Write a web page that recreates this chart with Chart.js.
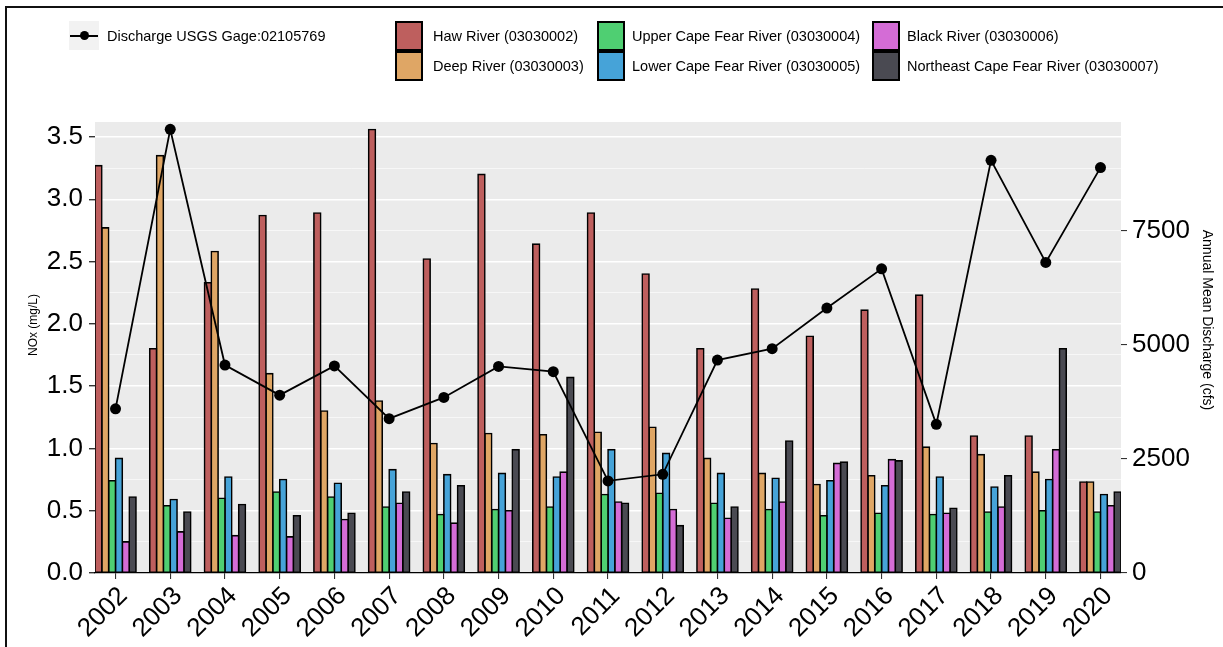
<!DOCTYPE html>
<html>
<head>
<meta charset="utf-8">
<script src="https://cdn.jsdelivr.net/npm/chart.js@4.4.0/dist/chart.umd.min.js"></script>
<style>
  body { margin: 0; background: #fff; font-family: "Liberation Sans", Arial, sans-serif; }
  #wrap { position: relative; width: 1223px; height: 647px; overflow: hidden; }
  #frame { position: absolute; left: 5px; top: 6px; width: 1240px; height: 660px; border-top: 2px solid #111; border-left: 2px solid #111; }
  .lg-text { position: absolute; font-size: 14.5px; line-height: 30px; height: 30px; color: #000; white-space: nowrap; }
  .lg-key { position: absolute; width: 24px; height: 26px; border: 2px solid #000; }
  .axis-title { position: absolute; white-space: nowrap; color: #000; }
</style>
</head>
<body>
<div id="wrap">
  <canvas id="chart" width="1223" height="647"></canvas>
  <div id="frame"></div>
  <div id="legend"></div>
  <div class="axis-title" id="ytitle" style="left:33px; top:325px; font-size:12px; transform: translate(-50%,-50%) rotate(-90deg);">NOx (mg/L)</div>
  <div class="axis-title" id="y1title" style="left:1208px; top:320px; font-size:14px; transform: translate(-50%,-50%) rotate(90deg);">Annual Mean Discharge (cfs)</div>
</div>
<script>
// data
const years = [2002, 2003, 2004, 2005, 2006, 2007, 2008, 2009, 2010, 2011, 2012, 2013, 2014, 2015, 2016, 2017, 2018, 2019, 2020];

const haw      = [3.27, 1.80, 2.33, 2.87, 2.89, 3.56, 2.52, 3.20, 2.64, 2.89, 2.40, 1.80, 2.28, 1.90, 2.11, 2.23, 1.10, 1.10, 0.73];
const deep     = [2.77, 3.35, 2.58, 1.60, 1.30, 1.38, 1.04, 1.12, 1.11, 1.13, 1.17, 0.92, 0.80, 0.71, 0.78, 1.01, 0.95, 0.81, 0.73];
const upperCF  = [0.74, 0.54, 0.60, 0.65, 0.61, 0.53, 0.47, 0.51, 0.53, 0.63, 0.64, 0.56, 0.51, 0.46, 0.48, 0.47, 0.49, 0.50, 0.49];
const lowerCF  = [0.92, 0.59, 0.77, 0.75, 0.72, 0.83, 0.79, 0.80, 0.77, 0.99, 0.96, 0.80, 0.76, 0.74, 0.70, 0.77, 0.69, 0.75, 0.63];
const black    = [0.25, 0.33, 0.30, 0.29, 0.43, 0.56, 0.40, 0.50, 0.81, 0.57, 0.51, 0.44, 0.57, 0.88, 0.91, 0.48, 0.53, 0.99, 0.54];
const neCF     = [0.61, 0.49, 0.55, 0.46, 0.48, 0.65, 0.70, 0.99, 1.57, 0.56, 0.38, 0.53, 1.06, 0.89, 0.90, 0.52, 0.78, 1.80, 0.65];

// annual mean discharge (cfs)
const discharge = [3600, 9730, 4560, 3900, 4540, 3385, 3850, 4530, 4415, 2020, 2165, 4670, 4920, 5810, 6670, 3260, 9050, 6810, 8890];
const dischargeTicks = [0, 2500, 5000, 7500];

const riverNames = [
    'Haw River (03030002)',
    'Deep River (03030003)',
    'Upper Cape Fear River (03030004)',
    'Lower Cape Fear River (03030005)',
    'Black River (03030006)',
    'Northeast Cape Fear River (03030007)'
];
const riverSeries = [haw, deep, upperCF, lowerCF, black, neCF];
const riverColors = ['#BE5F5E', '#DFA665', '#4FCF72', '#46A3D8', '#D46CD6', '#4A4A52'];
const lineName = 'Discharge USGS Gage:02105769';

const nMax = 3.62;      // top of left axis
const secFactor = 2732; // cfs per mg/L (secondary axis)

// gray ggplot panel
const panelBg = {
    id: 'panelBg',
    beforeDraw(chart) {
        const { ctx, chartArea: a } = chart;
        ctx.save();
        ctx.fillStyle = '#EBEBEB';
        ctx.fillRect(a.left, a.top, a.right - a.left, a.bottom - a.top);
        ctx.restore();
    }
};

const isMajor = v => Math.round(v * 4) % 2 === 0;

let datasets = riverSeries.map((vals, i) => ({
    type: 'bar',
    label: riverNames[i],
    data: years.map((yr, j) => ({ x: yr, y: vals[j] })),
    backgroundColor: riverColors[i],
    borderColor: '#000',
    borderWidth: 1.6,
    borderSkipped: false,
    inflateAmount: 0.8,
    categoryPercentage: 0.75,
    barPercentage: 1.0,
    yAxisID: 'y',
    order: 1
}));

datasets.push({
    type: 'line',
    label: lineName,
    data: years.map((yr, j) => ({ x: yr, y: discharge[j] })),
    borderColor: '#000',
    borderWidth: 1.8,
    pointRadius: 5.5,
    pointBackgroundColor: '#000',
    pointBorderWidth: 0,
    tension: 0,
    yAxisID: 'y1',
    order: 0
});

const tickFont = { family: '"Liberation Sans", Arial, sans-serif', size: 26 };

new Chart(document.getElementById('chart').getContext('2d'), {
    data: { datasets: datasets },
    plugins: [panelBg],
    options: {
        responsive: false,
        animation: false,
        layout: { padding: { top: 122, left: 0, right: 0, bottom: 0 } },
        plugins: { legend: { display: false }, tooltip: { enabled: false } },
        scales: {
            x: {
                type: 'linear',
                offset: false,
                min: 2001.625,
                max: 2020.375,
                grid: { offset: false, drawOnChartArea: false, color: '#333', tickLength: 6, lineWidth: 1.1 },
                border: { display: true, color: '#000', width: 1.2 },
                ticks: {
                    stepSize: 1, includeBounds: false, autoSkip: false,
                    minRotation: 45, maxRotation: 45, padding: 2, labelOffset: 8,
                    color: '#000', font: tickFont,
                    callback: v => String(v)
                },
                afterFit: s => { s.height = 74; }
            },
            y: {
                position: 'left',
                min: 0,
                max: nMax,
                grid: {
                    color: ctx => ctx.tick && ctx.tick.value === 0 ? 'rgba(0,0,0,0)' : '#fff',
                    lineWidth: ctx => (ctx.tick && isMajor(ctx.tick.value)) ? 1.4 : 0.6,
                    tickColor: ctx => (ctx.tick && isMajor(ctx.tick.value)) ? '#333' : 'rgba(0,0,0,0)',
                    tickLength: 6
                },
                border: { display: false },
                ticks: {
                    stepSize: 0.25, includeBounds: false, autoSkip: false, padding: 6,
                    color: '#000', font: tickFont,
                    callback: v => isMajor(v) ? v.toFixed(1) : ''
                },
                afterFit: s => { s.width = 95; }
            },
            y1: {
                position: 'right',
                min: 0,
                max: nMax * secFactor,
                grid: { drawOnChartArea: false, color: '#333', tickLength: 6, lineWidth: 1.1 },
                border: { display: false },
                afterBuildTicks: s => { s.ticks = dischargeTicks.map(v => ({ value: v })); },
                ticks: {
                    autoSkip: false, padding: 5,
                    color: '#000', font: tickFont,
                    callback: v => String(v)
                },
                afterFit: s => { s.width = 102; }
            }
        }
    }
});

// legend, laid out like the ggplot one
const legend = document.getElementById('legend');

function addDiv(cls, css, text) {
    const d = document.createElement('div');
    d.className = cls;
    d.style.cssText = css;
    if (text) d.textContent = text;
    legend.appendChild(d);
    return d;
}

addDiv('', 'position:absolute;left:69px;top:21px;width:30px;height:29px;background:#F2F2F2;');
addDiv('', 'position:absolute;left:70px;top:34.5px;width:28px;height:2px;background:#000;');
addDiv('', 'position:absolute;left:79.5px;top:31px;width:9px;height:9px;border-radius:50%;background:#000;');
addDiv('lg-text', 'left:107px;top:21px;', lineName);

const keyLeft = [395, 597, 872];
const textLeft = [433, 632, 907];
riverNames.forEach((name, i) => {
    const col = Math.floor(i / 2);
    const row = i % 2;
    const top = 21 + row * 30;
    addDiv('lg-key', 'left:' + keyLeft[col] + 'px;top:' + top + 'px;background:' + riverColors[i] + ';');
    addDiv('lg-text', 'left:' + textLeft[col] + 'px;top:' + top + 'px;', name);
});
</script>
</body>
</html>
